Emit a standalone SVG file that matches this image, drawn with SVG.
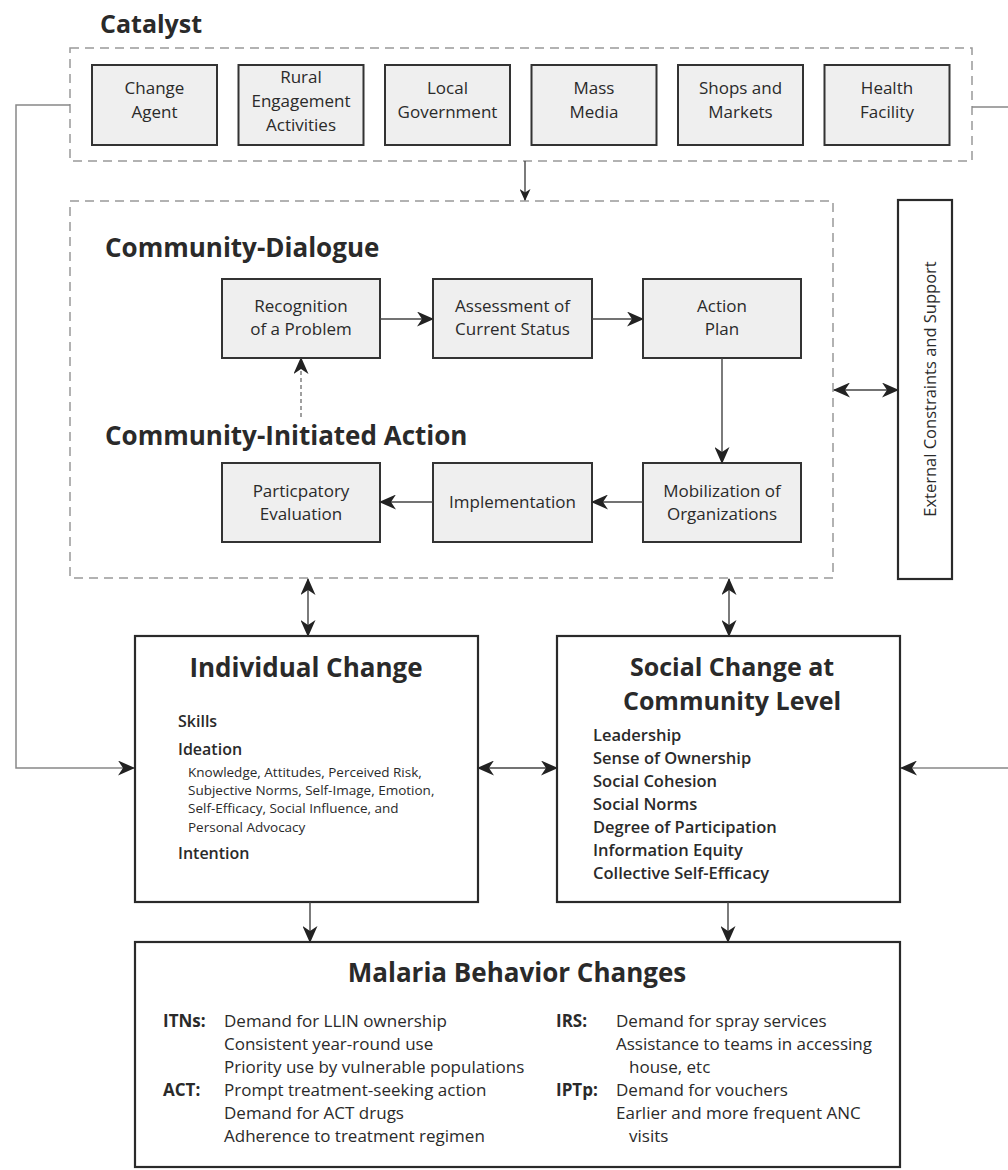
<svg xmlns="http://www.w3.org/2000/svg" width="1008" height="1170" viewBox="0 0 1008 1170">
<style>
text{font-family:"Open Sans","Liberation Sans",sans-serif;fill:#2a2a2a}
.h{font-weight:bold;font-size:25px}
.t{font-weight:bold;font-size:26px;text-anchor:middle}
.b{font-size:17px;text-anchor:middle}
.gb{fill:#efefef;stroke:#333;stroke-width:2}
.wb{fill:#fff;stroke:#2a2a2a;stroke-width:2.2}
.dash{fill:none;stroke:#999;stroke-width:1.5;stroke-dasharray:9,6}
.c{fill:none;stroke:#444;stroke-width:1.4}
.g{fill:none;stroke:#888;stroke-width:1.5}
.s{font-size:16px;font-weight:600}
.s2{font-size:16.5px;font-weight:600}
.k{font-size:13.5px}
.m{font-size:17px}
.ml{font-size:17px;font-weight:bold}
</style>
<defs>
<marker id="ah" markerUnits="userSpaceOnUse" markerWidth="17" markerHeight="15" refX="16" refY="7.5" orient="auto-start-reverse" viewBox="0 0 17 15">
<path d="M0,0 L17,7.5 L0,15 L5,7.5 z" fill="#222"/>
</marker>
<marker id="as" markerUnits="userSpaceOnUse" markerWidth="12" markerHeight="11" refX="11" refY="5.5" orient="auto-start-reverse" viewBox="0 0 12 11">
<path d="M0,0 L12,5.5 L0,11 L3.5,5.5 z" fill="#222"/>
</marker>
</defs>

<text class="h" x="100" y="33">Catalyst</text>

<g id="catalyst">
<rect class="dash" x="70" y="48" width="902" height="113"/>
</g>
<g id="change-agent"><rect class="gb" x="92" y="65" width="125" height="80"/><text class="b" x="154.5" y="94">Change</text><text class="b" x="154.5" y="118">Agent</text></g>
<g id="rural"><rect class="gb" x="238.5" y="65" width="125" height="80"/><text class="b" x="301" y="83">Rural</text><text class="b" x="301" y="107">Engagement</text><text class="b" x="301" y="131">Activities</text></g>
<g id="local-gov"><rect class="gb" x="385" y="65" width="125" height="80"/><text class="b" x="447.5" y="94">Local</text><text class="b" x="447.5" y="118">Government</text></g>
<g id="mass-media"><rect class="gb" x="531.5" y="65" width="125" height="80"/><text class="b" x="594" y="94">Mass</text><text class="b" x="594" y="118">Media</text></g>
<g id="shops"><rect class="gb" x="678" y="65" width="125" height="80"/><text class="b" x="740.5" y="94">Shops and</text><text class="b" x="740.5" y="118">Markets</text></g>
<g id="health"><rect class="gb" x="824.5" y="65" width="125" height="80"/><text class="b" x="887" y="94">Health</text><text class="b" x="887" y="118">Facility</text></g>

<g id="community">
<rect class="dash" x="70" y="201" width="763" height="377"/>
<text class="h" x="105" y="257" style="font-size:26px">Community-Dialogue</text>
<text class="h" x="105" y="445" style="font-size:26px">Community-Initiated Action</text>
</g>
<g id="recognition"><rect class="gb" x="222" y="279" width="158" height="79"/><text class="b" x="301" y="312">Recognition</text><text class="b" x="301" y="335">of a Problem</text></g>
<g id="assessment"><rect class="gb" x="433" y="279" width="159" height="79"/><text class="b" x="512.5" y="312">Assessment of</text><text class="b" x="512.5" y="335">Current Status</text></g>
<g id="action-plan"><rect class="gb" x="643" y="279" width="158" height="79"/><text class="b" x="722" y="312">Action</text><text class="b" x="722" y="335">Plan</text></g>
<g id="participatory"><rect class="gb" x="222" y="463" width="158" height="79"/><text class="b" x="301" y="497">Particpatory</text><text class="b" x="301" y="520">Evaluation</text></g>
<g id="implementation"><rect class="gb" x="433" y="463" width="159" height="79"/><text class="b" x="512.5" y="508">Implementation</text></g>
<g id="mobilization"><rect class="gb" x="643" y="463" width="158" height="79"/><text class="b" x="722" y="497">Mobilization of</text><text class="b" x="722" y="520">Organizations</text></g>

<g id="external"><rect class="wb" x="898" y="200" width="54" height="379"/><text transform="translate(936,389) rotate(-90)" style="font-size:16.5px;text-anchor:middle">External Constraints and Support</text></g>

<g id="individual">
<rect class="wb" x="135" y="636" width="343" height="266"/>
<text class="t" x="306" y="677">Individual Change</text>
<text class="s" x="178" y="727">Skills</text>
<text class="s" x="178" y="755">Ideation</text>
<text class="k" x="188" y="777">Knowledge, Attitudes, Perceived Risk,</text>
<text class="k" x="188" y="795">Subjective Norms, Self-Image, Emotion,</text>
<text class="k" x="188" y="813">Self-Efficacy, Social Influence, and</text>
<text class="k" x="188" y="832">Personal Advocacy</text>
<text class="s" x="178" y="859">Intention</text>
</g>

<g id="social">
<rect class="wb" x="557" y="636" width="343" height="266"/>
<text class="t" x="732" y="676" style="font-size:25px">Social Change at</text>
<text class="t" x="732" y="710" style="font-size:25px">Community Level</text>
<text class="s2" x="593" y="741">Leadership</text>
<text class="s2" x="593" y="764">Sense of Ownership</text>
<text class="s2" x="593" y="787">Social Cohesion</text>
<text class="s2" x="593" y="810">Social Norms</text>
<text class="s2" x="593" y="833">Degree of Participation</text>
<text class="s2" x="593" y="856">Information Equity</text>
<text class="s2" x="593" y="879">Collective Self-Efficacy</text>
</g>

<g id="malaria">
<rect class="wb" x="135" y="942" width="765" height="225"/>
<text class="t" x="517" y="982">Malaria Behavior Changes</text>
<text class="ml" x="163" y="1027">ITNs:</text>
<text class="m" x="224" y="1027">Demand for LLIN ownership</text>
<text class="m" x="224" y="1050">Consistent year-round use</text>
<text class="m" x="224" y="1073">Priority use by vulnerable populations</text>
<text class="ml" x="163" y="1096">ACT:</text>
<text class="m" x="224" y="1096">Prompt treatment-seeking action</text>
<text class="m" x="224" y="1119">Demand for ACT drugs</text>
<text class="m" x="224" y="1142">Adherence to treatment regimen</text>
<text class="ml" x="556" y="1027">IRS:</text>
<text class="m" x="616" y="1027">Demand for spray services</text>
<text class="m" x="616" y="1050">Assistance to teams in accessing</text>
<text class="m" x="629" y="1073">house, etc</text>
<text class="ml" x="556" y="1096">IPTp:</text>
<text class="m" x="616" y="1096">Demand for vouchers</text>
<text class="m" x="616" y="1119">Earlier and more frequent ANC</text>
<text class="m" x="629" y="1142">visits</text>
</g>

<g id="connectors">
<path class="c" d="M525,161 V200" marker-end="url(#as)"/>
<path class="c" d="M380,319 H433" marker-end="url(#ah)"/>
<path class="c" d="M592,319 H643" marker-end="url(#ah)"/>
<path class="c" d="M722,358 V463" marker-end="url(#ah)"/>
<path class="c" d="M643,502 H592" marker-end="url(#ah)"/>
<path class="c" d="M433,502 H380" marker-end="url(#ah)"/>
<path class="c" d="M301,417 V358" stroke-dasharray="4,3" marker-end="url(#ah)" style="stroke:#777"/>
<path class="c" d="M834,390 H898" marker-start="url(#ah)" marker-end="url(#ah)"/>
<path class="c" d="M308,579 V636" marker-start="url(#ah)" marker-end="url(#ah)"/>
<path class="c" d="M729,579 V636" marker-start="url(#ah)" marker-end="url(#ah)"/>
<path class="c" d="M478,768 H557" marker-start="url(#ah)" marker-end="url(#ah)"/>
<path class="c" d="M310,902 V942" marker-end="url(#ah)"/>
<path class="c" d="M728,902 V942" marker-end="url(#ah)"/>
<path class="g" d="M70,105 H16 V768 H134" marker-end="url(#ah)"/>
<path class="g" d="M972,107 H1020 V768 H901" marker-end="url(#ah)"/>
</g>
</svg>
